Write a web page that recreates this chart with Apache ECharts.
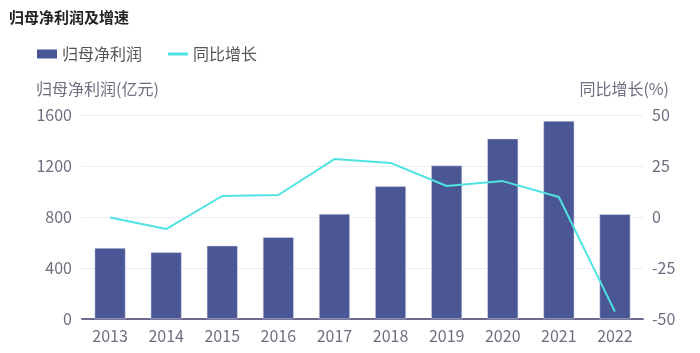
<!DOCTYPE html>
<html>
<head>
<meta charset="utf-8">
<script src="https://cdn.jsdelivr.net/npm/echarts@6/dist/echarts.min.js"></script>
<style>
  html, body { margin: 0; padding: 0; background: #fff; }
  #main { width: 700px; height: 353px; }
</style>
</head>
<body>
<div id="main"></div>
<script>
// 数据
var years = ['2013', '2014', '2015', '2016', '2017', '2018', '2019', '2020', '2021', '2022'];
var profit = [557, 523, 575, 641, 824, 1041, 1203, 1414, 1553, 821];
var growth = [-0.2, -5.9, 10.3, 10.8, 28.4, 26.5, 15.2, 17.6, 9.8, -46.4];

var font = '"Noto Sans CJK SC", "Noto Sans", sans-serif';
var labelColor = '#6e6e80';

var myChart = echarts.init(document.getElementById('main'));
myChart.setOption({
    animation: false,
    textStyle: { fontFamily: font },
    title: {
        text: '归母净利润及增速',
        left: 4,
        top: 5,
        textStyle: { fontSize: 15, fontWeight: 'bold', color: '#222', fontFamily: font }
    },
    legend: {
        left: 32,
        top: 41,
        itemWidth: 20,
        itemHeight: 9,
        itemGap: 26,
        itemStyle: { borderWidth: 0 },
        textStyle: { fontSize: 16, color: '#555', fontFamily: font },
        data: [
            { name: '归母净利润', icon: 'rect' },
            { name: '同比增长', icon: 'path://M0,3 L20,3 L20,6 L0,6 Z' }
        ]
    },
    grid: { left: 82, right: 57, top: 115, bottom: 34 },
    xAxis: {
        type: 'category',
        data: years,
        axisTick: { show: false },
        axisLine: { lineStyle: { color: '#6e6a8e', width: 2 } },
        axisLabel: { fontSize: 16, color: labelColor, margin: 9 }
    },
    yAxis: [{
        type: 'value',
        name: '归母净利润(亿元)',
        min: 0,
        max: 1600,
        interval: 400,
        nameGap: 18,
        nameTextStyle: { fontSize: 16, color: labelColor, align: 'left', padding: [0, 0, 0, -46] },
        axisLabel: { fontSize: 16, color: labelColor, margin: 10, formatter: function (v) { return String(v); } },
        splitLine: { lineStyle: { color: '#ecedf5' } }
    }, {
        type: 'value',
        name: '同比增长(%)',
        min: -50,
        max: 50,
        interval: 25,
        nameGap: 18,
        nameTextStyle: { fontSize: 16, color: labelColor, align: 'right', padding: [0, -26, 0, 0] },
        axisLabel: { fontSize: 16, color: labelColor, margin: 9 },
        splitLine: { lineStyle: { color: '#ecedf5' } }
    }],
    series: [{
        name: '归母净利润',
        type: 'bar',
        barWidth: '55%',
        itemStyle: { color: '#4b5795', borderColor: '#dcdff0', borderWidth: 0.5 },
        data: profit
    }, {
        name: '同比增长',
        type: 'line',
        yAxisIndex: 1,
        symbol: 'none',
        lineStyle: { color: '#4ee2e2', width: 2 },
        itemStyle: { color: '#4ee2e2' },
        data: growth
    }]
});
</script>
</body>
</html>
